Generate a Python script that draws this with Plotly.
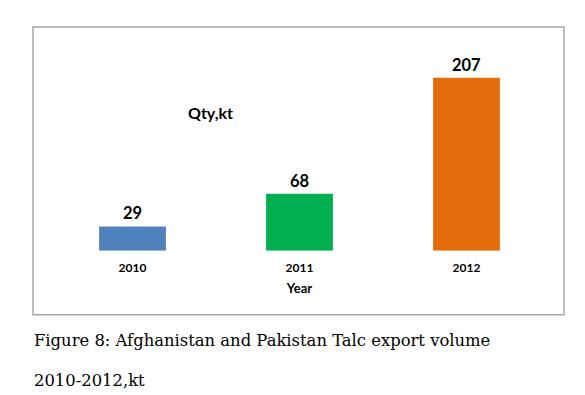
import plotly.graph_objects as go

years = ["2010", "2011", "2012"]
qty = [29, 68, 207]
colors = ["#4F81BD", "#00B050", "#E46C0A"]

W, H = 585, 395
def px(x): return x / W
def py(y): return 1 - y / H

fig = go.Figure(go.Bar(
    x=years, y=qty, marker=dict(color=colors, line=dict(width=0)),
    width=0.4, text=[str(v) for v in qty], textposition="outside",
    textfont=dict(family="Lato", size=16.5, color="#000000"),
    texttemplate="<b>%{text}</b>", cliponaxis=False,
))

fig.update_layout(
    width=W, height=H, margin=dict(l=0, r=0, t=0, b=0),
    paper_bgcolor="white", plot_bgcolor="white", showlegend=False,
    xaxis=dict(domain=[px(49), px(550)], showgrid=False, showline=False, zeroline=False,
               ticks="", tickfont=dict(family="Lato", size=12, color="#000000"),
               ticklabelstandoff=8,
               tickprefix="<b>", ticksuffix="</b>",
               title=dict(text="<b>Year</b>", font=dict(family="Lato", size=13, color="#000000"), standoff=10)),
    yaxis=dict(domain=[py(250.7), py(58.4)], range=[0, 230], visible=False),
)

fig.add_shape(type="rect", xref="paper", yref="paper",
              x0=px(33), x1=px(564), y0=py(314.7), y1=py(27),
              line=dict(color="#A6A6A6", width=1.5), fillcolor="rgba(0,0,0,0)")

fig.add_annotation(text="<b>Qty,kt</b>", xref="paper", yref="paper",
                   x=px(210.5), y=py(113), xanchor="center", yanchor="middle", showarrow=False,
                   font=dict(family="Lato", size=16, color="#000000"))

fig.add_annotation(text="Figure 8: Afghanistan and Pakistan Talc export volume",
                   xref="paper", yref="paper", x=px(32), y=py(340), xanchor="left", yanchor="middle",
                   showarrow=False, font=dict(family="DejaVu Serif", size=16.4, color="#000000"))
fig.add_annotation(text="2010-2012,kt",
                   xref="paper", yref="paper", x=px(32), y=py(380), xanchor="left", yanchor="middle",
                   showarrow=False, font=dict(family="DejaVu Serif", size=16.4, color="#000000"))

fig.write_html("out.html", config={"displayModeBar": False},
               post_script="document.body.style.margin='0';")
